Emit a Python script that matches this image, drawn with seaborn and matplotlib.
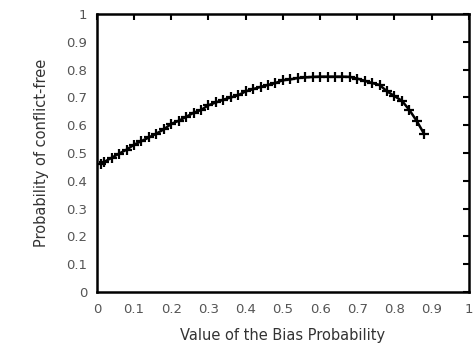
import matplotlib
matplotlib.use("Agg")
import matplotlib.pyplot as plt
import seaborn as sns
import pandas as pd

bias = [0.01, 0.02, 0.04, 0.06, 0.08, 0.10, 0.12, 0.14, 0.16, 0.18, 0.20, 0.22, 0.24, 0.26, 0.28,
        0.30, 0.32, 0.34, 0.36, 0.38, 0.40, 0.42, 0.44, 0.46, 0.48, 0.50, 0.52, 0.54, 0.56, 0.58,
        0.60, 0.62, 0.64, 0.66, 0.68, 0.70, 0.72, 0.74, 0.76, 0.78, 0.80, 0.82, 0.84, 0.86, 0.88]
prob = [0.460, 0.468, 0.483, 0.498, 0.512, 0.530, 0.543, 0.556, 0.570, 0.585, 0.605, 0.616, 0.630,
        0.645, 0.655, 0.672, 0.682, 0.692, 0.700, 0.708, 0.722, 0.730, 0.738, 0.745, 0.752, 0.762,
        0.765, 0.770, 0.772, 0.774, 0.775, 0.775, 0.775, 0.775, 0.774, 0.768, 0.760, 0.752, 0.745,
        0.722, 0.705, 0.688, 0.655, 0.615, 0.568]
ticks = [0, 0.1, 0.2, 0.3, 0.4, 0.5, 0.6, 0.7, 0.8, 0.9, 1]
tick_labels = ["0", "0.1", "0.2", "0.3", "0.4", "0.5", "0.6", "0.7", "0.8", "0.9", "1"]

df = pd.DataFrame({"x": bias, "y": prob})

sns.set_style("white")
plt.rcParams['font.family'] = ['DejaVu Sans']

fig = plt.figure(figsize=(4.77, 3.45), dpi=100)
ax = fig.add_axes([0.203, 0.154, 0.780, 0.805])
sns.lineplot(data=df, x="x", y="y", ax=ax, color="black", linewidth=1.8,
             marker="+", markersize=7, markeredgewidth=1.6, markeredgecolor="black")
ax.set_xlim(0, 1)
ax.set_ylim(0, 1)
ax.set_xticks(ticks)
ax.set_xticklabels(tick_labels)
ax.set_yticks(ticks)
ax.set_yticklabels(tick_labels)
ax.tick_params(direction="in", length=4, width=1.5, top=True, right=True,
               labelsize=9.5, colors="black", labelcolor="#555555")
ax.tick_params(axis="y", pad=7)
ax.tick_params(axis="x", pad=8)
for s in ax.spines.values():
    s.set_linewidth(1.8)
    s.set_color("black")
ax.set_xlabel("Value of the Bias Probability", fontsize=10.5, color="#333333", labelpad=9)
ax.set_ylabel("Probability of conflict-free", fontsize=10.5, color="#333333", labelpad=12)
fig.savefig("out.png", dpi=100)
